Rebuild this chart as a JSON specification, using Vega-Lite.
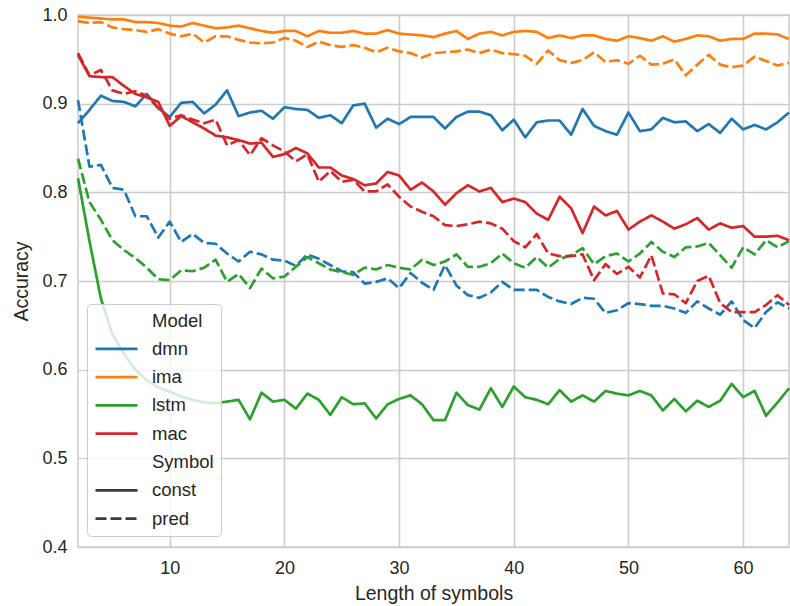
{
  "$schema": "https://vega.github.io/schema/vega-lite/v6.json",
  "width": 711,
  "height": 532,
  "autosize": {"type": "none"},
  "padding": {"left": 78, "top": 15, "right": 1, "bottom": 59},
  "background": "white",
  "config": {
    "font": "Liberation Sans",
    "view": {"stroke": "#cccccc", "strokeWidth": 1.5},
    "axis": {
      "grid": true, "gridColor": "#cccccc", "gridWidth": 1.6,
      "domain": false, "ticks": false,
      "labelFont": "Liberation Sans", "labelFontSize": 18, "labelColor": "#262626",
      "titleFont": "Liberation Sans", "titleFontSize": 19.5, "titleFontWeight": "normal", "titleColor": "#262626"
    }
  },
  "data": {"values": [
    {"x":2,"Model":"dmn","const":0.878,"pred":0.904},{"x":3,"Model":"dmn","const":0.893,"pred":0.829},{"x":4,"Model":"dmn","const":0.909,"pred":0.831},{"x":5,"Model":"dmn","const":0.903,"pred":0.805},{"x":6,"Model":"dmn","const":0.902,"pred":0.803},{"x":7,"Model":"dmn","const":0.897,"pred":0.773},{"x":8,"Model":"dmn","const":0.911,"pred":0.773},{"x":9,"Model":"dmn","const":0.895,"pred":0.749},{"x":10,"Model":"dmn","const":0.885,"pred":0.767},{"x":11,"Model":"dmn","const":0.901,"pred":0.744},{"x":12,"Model":"dmn","const":0.902,"pred":0.753},{"x":13,"Model":"dmn","const":0.889,"pred":0.743},{"x":14,"Model":"dmn","const":0.899,"pred":0.742},{"x":15,"Model":"dmn","const":0.915,"pred":0.731},{"x":16,"Model":"dmn","const":0.886,"pred":0.722},{"x":17,"Model":"dmn","const":0.890,"pred":0.733},{"x":18,"Model":"dmn","const":0.892,"pred":0.730},{"x":19,"Model":"dmn","const":0.883,"pred":0.724},{"x":20,"Model":"dmn","const":0.896,"pred":0.723},{"x":21,"Model":"dmn","const":0.894,"pred":0.717},{"x":22,"Model":"dmn","const":0.893,"pred":0.730},{"x":23,"Model":"dmn","const":0.884,"pred":0.725},{"x":24,"Model":"dmn","const":0.887,"pred":0.718},{"x":25,"Model":"dmn","const":0.878,"pred":0.711},{"x":26,"Model":"dmn","const":0.898,"pred":0.710},{"x":27,"Model":"dmn","const":0.900,"pred":0.697},{"x":28,"Model":"dmn","const":0.873,"pred":0.699},{"x":29,"Model":"dmn","const":0.883,"pred":0.703},{"x":30,"Model":"dmn","const":0.877,"pred":0.692},{"x":31,"Model":"dmn","const":0.885,"pred":0.709},{"x":32,"Model":"dmn","const":0.885,"pred":0.698},{"x":33,"Model":"dmn","const":0.885,"pred":0.690},{"x":34,"Model":"dmn","const":0.872,"pred":0.718},{"x":35,"Model":"dmn","const":0.885,"pred":0.695},{"x":36,"Model":"dmn","const":0.891,"pred":0.684},{"x":37,"Model":"dmn","const":0.891,"pred":0.681},{"x":38,"Model":"dmn","const":0.887,"pred":0.687},{"x":39,"Model":"dmn","const":0.870,"pred":0.699},{"x":40,"Model":"dmn","const":0.882,"pred":0.690},{"x":41,"Model":"dmn","const":0.862,"pred":0.690},{"x":42,"Model":"dmn","const":0.879,"pred":0.690},{"x":43,"Model":"dmn","const":0.881,"pred":0.682},{"x":44,"Model":"dmn","const":0.881,"pred":0.677},{"x":45,"Model":"dmn","const":0.865,"pred":0.674},{"x":46,"Model":"dmn","const":0.894,"pred":0.681},{"x":47,"Model":"dmn","const":0.875,"pred":0.680},{"x":48,"Model":"dmn","const":0.869,"pred":0.664},{"x":49,"Model":"dmn","const":0.865,"pred":0.667},{"x":50,"Model":"dmn","const":0.890,"pred":0.675},{"x":51,"Model":"dmn","const":0.869,"pred":0.674},{"x":52,"Model":"dmn","const":0.871,"pred":0.672},{"x":53,"Model":"dmn","const":0.884,"pred":0.672},{"x":54,"Model":"dmn","const":0.879,"pred":0.669},{"x":55,"Model":"dmn","const":0.880,"pred":0.664},{"x":56,"Model":"dmn","const":0.869,"pred":0.677},{"x":57,"Model":"dmn","const":0.877,"pred":0.669},{"x":58,"Model":"dmn","const":0.867,"pred":0.662},{"x":59,"Model":"dmn","const":0.883,"pred":0.677},{"x":60,"Model":"dmn","const":0.871,"pred":0.656},{"x":61,"Model":"dmn","const":0.876,"pred":0.647},{"x":62,"Model":"dmn","const":0.871,"pred":0.665},{"x":63,"Model":"dmn","const":0.879,"pred":0.676},{"x":64,"Model":"dmn","const":0.890,"pred":0.669},
    {"x":2,"Model":"ima","const":0.998,"pred":0.993},{"x":3,"Model":"ima","const":0.997,"pred":0.991},{"x":4,"Model":"ima","const":0.996,"pred":0.992},{"x":5,"Model":"ima","const":0.995,"pred":0.986},{"x":6,"Model":"ima","const":0.995,"pred":0.984},{"x":7,"Model":"ima","const":0.992,"pred":0.983},{"x":8,"Model":"ima","const":0.992,"pred":0.981},{"x":9,"Model":"ima","const":0.991,"pred":0.984},{"x":10,"Model":"ima","const":0.988,"pred":0.979},{"x":11,"Model":"ima","const":0.987,"pred":0.976},{"x":12,"Model":"ima","const":0.991,"pred":0.979},{"x":13,"Model":"ima","const":0.988,"pred":0.969},{"x":14,"Model":"ima","const":0.985,"pred":0.976},{"x":15,"Model":"ima","const":0.986,"pred":0.976},{"x":16,"Model":"ima","const":0.988,"pred":0.972},{"x":17,"Model":"ima","const":0.985,"pred":0.969},{"x":18,"Model":"ima","const":0.982,"pred":0.968},{"x":19,"Model":"ima","const":0.980,"pred":0.969},{"x":20,"Model":"ima","const":0.982,"pred":0.974},{"x":21,"Model":"ima","const":0.982,"pred":0.971},{"x":22,"Model":"ima","const":0.976,"pred":0.964},{"x":23,"Model":"ima","const":0.982,"pred":0.970},{"x":24,"Model":"ima","const":0.980,"pred":0.966},{"x":25,"Model":"ima","const":0.980,"pred":0.964},{"x":26,"Model":"ima","const":0.982,"pred":0.966},{"x":27,"Model":"ima","const":0.979,"pred":0.963},{"x":28,"Model":"ima","const":0.979,"pred":0.958},{"x":29,"Model":"ima","const":0.983,"pred":0.963},{"x":30,"Model":"ima","const":0.979,"pred":0.959},{"x":31,"Model":"ima","const":0.978,"pred":0.957},{"x":32,"Model":"ima","const":0.977,"pred":0.952},{"x":33,"Model":"ima","const":0.975,"pred":0.957},{"x":34,"Model":"ima","const":0.979,"pred":0.958},{"x":35,"Model":"ima","const":0.982,"pred":0.959},{"x":36,"Model":"ima","const":0.973,"pred":0.961},{"x":37,"Model":"ima","const":0.979,"pred":0.957},{"x":38,"Model":"ima","const":0.981,"pred":0.961},{"x":39,"Model":"ima","const":0.977,"pred":0.957},{"x":40,"Model":"ima","const":0.981,"pred":0.956},{"x":41,"Model":"ima","const":0.982,"pred":0.954},{"x":42,"Model":"ima","const":0.981,"pred":0.945},{"x":43,"Model":"ima","const":0.974,"pred":0.960},{"x":44,"Model":"ima","const":0.977,"pred":0.949},{"x":45,"Model":"ima","const":0.974,"pred":0.946},{"x":46,"Model":"ima","const":0.977,"pred":0.949},{"x":47,"Model":"ima","const":0.977,"pred":0.958},{"x":48,"Model":"ima","const":0.973,"pred":0.947},{"x":49,"Model":"ima","const":0.971,"pred":0.949},{"x":50,"Model":"ima","const":0.976,"pred":0.945},{"x":51,"Model":"ima","const":0.974,"pred":0.954},{"x":52,"Model":"ima","const":0.971,"pred":0.944},{"x":53,"Model":"ima","const":0.976,"pred":0.945},{"x":54,"Model":"ima","const":0.970,"pred":0.950},{"x":55,"Model":"ima","const":0.973,"pred":0.932},{"x":56,"Model":"ima","const":0.977,"pred":0.944},{"x":57,"Model":"ima","const":0.976,"pred":0.955},{"x":58,"Model":"ima","const":0.971,"pred":0.944},{"x":59,"Model":"ima","const":0.973,"pred":0.941},{"x":60,"Model":"ima","const":0.973,"pred":0.943},{"x":61,"Model":"ima","const":0.979,"pred":0.953},{"x":62,"Model":"ima","const":0.979,"pred":0.948},{"x":63,"Model":"ima","const":0.978,"pred":0.943},{"x":64,"Model":"ima","const":0.973,"pred":0.946},
    {"x":2,"Model":"lstm","const":0.816,"pred":0.838},{"x":3,"Model":"lstm","const":0.745,"pred":0.789},{"x":4,"Model":"lstm","const":0.680,"pred":0.769},{"x":5,"Model":"lstm","const":0.640,"pred":0.746},{"x":6,"Model":"lstm","const":0.618,"pred":0.735},{"x":7,"Model":"lstm","const":0.600,"pred":0.726},{"x":8,"Model":"lstm","const":0.588,"pred":0.715},{"x":9,"Model":"lstm","const":0.580,"pred":0.702},{"x":10,"Model":"lstm","const":0.575,"pred":0.701},{"x":11,"Model":"lstm","const":0.570,"pred":0.712},{"x":12,"Model":"lstm","const":0.566,"pred":0.711},{"x":13,"Model":"lstm","const":0.563,"pred":0.715},{"x":14,"Model":"lstm","const":0.562,"pred":0.724},{"x":15,"Model":"lstm","const":0.564,"pred":0.699},{"x":16,"Model":"lstm","const":0.566,"pred":0.708},{"x":17,"Model":"lstm","const":0.544,"pred":0.692},{"x":18,"Model":"lstm","const":0.574,"pred":0.714},{"x":19,"Model":"lstm","const":0.564,"pred":0.703},{"x":20,"Model":"lstm","const":0.566,"pred":0.705},{"x":21,"Model":"lstm","const":0.556,"pred":0.716},{"x":22,"Model":"lstm","const":0.573,"pred":0.727},{"x":23,"Model":"lstm","const":0.566,"pred":0.720},{"x":24,"Model":"lstm","const":0.549,"pred":0.713},{"x":25,"Model":"lstm","const":0.569,"pred":0.710},{"x":26,"Model":"lstm","const":0.561,"pred":0.707},{"x":27,"Model":"lstm","const":0.562,"pred":0.715},{"x":28,"Model":"lstm","const":0.545,"pred":0.713},{"x":29,"Model":"lstm","const":0.561,"pred":0.718},{"x":30,"Model":"lstm","const":0.567,"pred":0.715},{"x":31,"Model":"lstm","const":0.571,"pred":0.713},{"x":32,"Model":"lstm","const":0.561,"pred":0.724},{"x":33,"Model":"lstm","const":0.543,"pred":0.718},{"x":34,"Model":"lstm","const":0.543,"pred":0.722},{"x":35,"Model":"lstm","const":0.574,"pred":0.730},{"x":36,"Model":"lstm","const":0.560,"pred":0.716},{"x":37,"Model":"lstm","const":0.555,"pred":0.716},{"x":38,"Model":"lstm","const":0.579,"pred":0.720},{"x":39,"Model":"lstm","const":0.558,"pred":0.731},{"x":40,"Model":"lstm","const":0.581,"pred":0.720},{"x":41,"Model":"lstm","const":0.569,"pred":0.715},{"x":42,"Model":"lstm","const":0.566,"pred":0.727},{"x":43,"Model":"lstm","const":0.561,"pred":0.715},{"x":44,"Model":"lstm","const":0.577,"pred":0.725},{"x":45,"Model":"lstm","const":0.564,"pred":0.729},{"x":46,"Model":"lstm","const":0.571,"pred":0.737},{"x":47,"Model":"lstm","const":0.564,"pred":0.719},{"x":48,"Model":"lstm","const":0.576,"pred":0.728},{"x":49,"Model":"lstm","const":0.573,"pred":0.731},{"x":50,"Model":"lstm","const":0.571,"pred":0.722},{"x":51,"Model":"lstm","const":0.576,"pred":0.731},{"x":52,"Model":"lstm","const":0.571,"pred":0.744},{"x":53,"Model":"lstm","const":0.554,"pred":0.733},{"x":54,"Model":"lstm","const":0.567,"pred":0.727},{"x":55,"Model":"lstm","const":0.553,"pred":0.738},{"x":56,"Model":"lstm","const":0.565,"pred":0.739},{"x":57,"Model":"lstm","const":0.558,"pred":0.743},{"x":58,"Model":"lstm","const":0.565,"pred":0.729},{"x":59,"Model":"lstm","const":0.584,"pred":0.715},{"x":60,"Model":"lstm","const":0.569,"pred":0.738},{"x":61,"Model":"lstm","const":0.576,"pred":0.730},{"x":62,"Model":"lstm","const":0.548,"pred":0.746},{"x":63,"Model":"lstm","const":0.563,"pred":0.738},{"x":64,"Model":"lstm","const":0.579,"pred":0.745},
    {"x":2,"Model":"mac","const":0.955,"pred":0.957},{"x":3,"Model":"mac","const":0.931,"pred":0.932},{"x":4,"Model":"mac","const":0.930,"pred":0.938},{"x":5,"Model":"mac","const":0.930,"pred":0.915},{"x":6,"Model":"mac","const":0.920,"pred":0.911},{"x":7,"Model":"mac","const":0.911,"pred":0.914},{"x":8,"Model":"mac","const":0.907,"pred":0.909},{"x":9,"Model":"mac","const":0.902,"pred":0.895},{"x":10,"Model":"mac","const":0.875,"pred":0.883},{"x":11,"Model":"mac","const":0.886,"pred":0.887},{"x":12,"Model":"mac","const":0.879,"pred":0.882},{"x":13,"Model":"mac","const":0.872,"pred":0.878},{"x":14,"Model":"mac","const":0.864,"pred":0.882},{"x":15,"Model":"mac","const":0.862,"pred":0.853},{"x":16,"Model":"mac","const":0.859,"pred":0.859},{"x":17,"Model":"mac","const":0.855,"pred":0.842},{"x":18,"Model":"mac","const":0.856,"pred":0.861},{"x":19,"Model":"mac","const":0.840,"pred":0.853},{"x":20,"Model":"mac","const":0.843,"pred":0.846},{"x":21,"Model":"mac","const":0.850,"pred":0.835},{"x":22,"Model":"mac","const":0.844,"pred":0.843},{"x":23,"Model":"mac","const":0.828,"pred":0.812},{"x":24,"Model":"mac","const":0.828,"pred":0.824},{"x":25,"Model":"mac","const":0.819,"pred":0.812},{"x":26,"Model":"mac","const":0.815,"pred":0.814},{"x":27,"Model":"mac","const":0.808,"pred":0.801},{"x":28,"Model":"mac","const":0.810,"pred":0.801},{"x":29,"Model":"mac","const":0.823,"pred":0.809},{"x":30,"Model":"mac","const":0.819,"pred":0.795},{"x":31,"Model":"mac","const":0.803,"pred":0.784},{"x":32,"Model":"mac","const":0.811,"pred":0.778},{"x":33,"Model":"mac","const":0.801,"pred":0.773},{"x":34,"Model":"mac","const":0.786,"pred":0.763},{"x":35,"Model":"mac","const":0.799,"pred":0.762},{"x":36,"Model":"mac","const":0.808,"pred":0.764},{"x":37,"Model":"mac","const":0.801,"pred":0.767},{"x":38,"Model":"mac","const":0.805,"pred":0.765},{"x":39,"Model":"mac","const":0.789,"pred":0.759},{"x":40,"Model":"mac","const":0.793,"pred":0.745},{"x":41,"Model":"mac","const":0.789,"pred":0.738},{"x":42,"Model":"mac","const":0.776,"pred":0.753},{"x":43,"Model":"mac","const":0.769,"pred":0.731},{"x":44,"Model":"mac","const":0.795,"pred":0.728},{"x":45,"Model":"mac","const":0.782,"pred":0.728},{"x":46,"Model":"mac","const":0.754,"pred":0.730},{"x":47,"Model":"mac","const":0.784,"pred":0.701},{"x":48,"Model":"mac","const":0.774,"pred":0.719},{"x":49,"Model":"mac","const":0.779,"pred":0.708},{"x":50,"Model":"mac","const":0.758,"pred":0.716},{"x":51,"Model":"mac","const":0.767,"pred":0.704},{"x":52,"Model":"mac","const":0.774,"pred":0.729},{"x":53,"Model":"mac","const":0.767,"pred":0.686},{"x":54,"Model":"mac","const":0.759,"pred":0.685},{"x":55,"Model":"mac","const":0.764,"pred":0.675},{"x":56,"Model":"mac","const":0.771,"pred":0.700},{"x":57,"Model":"mac","const":0.758,"pred":0.706},{"x":58,"Model":"mac","const":0.765,"pred":0.675},{"x":59,"Model":"mac","const":0.760,"pred":0.665},{"x":60,"Model":"mac","const":0.762,"pred":0.665},{"x":61,"Model":"mac","const":0.750,"pred":0.665},{"x":62,"Model":"mac","const":0.750,"pred":0.673},{"x":63,"Model":"mac","const":0.751,"pred":0.684},{"x":64,"Model":"mac","const":0.746,"pred":0.673}
  ]},
  "transform": [{"fold": ["const", "pred"], "as": ["Symbol", "Accuracy"]}],
  "mark": {"type": "line", "strokeWidth": 2.7, "strokeJoin": "round", "strokeCap": "butt"},
  "encoding": {
    "x": {
      "field": "x", "type": "quantitative",
      "scale": {"domain": [2, 64], "nice": false, "zero": false},
      "axis": {"values": [10, 20, 30, 40, 50, 60], "title": "Length of symbols", "labelPadding": 12, "titlePadding": 7}
    },
    "y": {
      "field": "Accuracy", "type": "quantitative",
      "scale": {"domain": [0.4, 1.0], "nice": false, "zero": false},
      "axis": {"values": [0.4, 0.5, 0.6, 0.7, 0.8, 0.9, 1.0], "format": ".1f", "title": "Accuracy", "labelPadding": 11, "titlePadding": 10}
    },
    "color": {
      "field": "Model", "type": "nominal",
      "scale": {
        "domain": ["Model", "dmn", "ima", "lstm", "mac", "Symbol", "const", "pred"],
        "range": ["transparent", "#1f77b4", "#ff7f0e", "#2ca02c", "#d62728", "transparent", "#3a3a3a", "#3a3a3a"]
      },
      "legend": {
        "title": null,
        "orient": "none",
        "legendX": 9,
        "legendY": 289,
        "zindex": 1,
        "symbolType": "M-2.625,0H2.625",
        "symbolSize": 256,
        "symbolStrokeWidth": 2.7,
        "symbolOffset": 13,
        "labelOffset": 26,
        "labelFont": "Liberation Sans",
        "labelFontSize": 18.5,
        "labelColor": "#262626",
        "rowPadding": 9.3,
        "padding": 7,
        "fillColor": "rgba(255,255,255,0.8)",
        "strokeColor": "#cccccc",
        "cornerRadius": 4,
        "encode": {
          "symbols": {"update": {"strokeDash": {"signal": "datum.value === 'pred' ? [11, 4] : [1, 0]"}}}
        }
      }
    },
    "strokeDash": {
      "field": "Symbol", "type": "nominal",
      "scale": {"domain": ["const", "pred"], "range": [[1, 0], [11, 4]]},
      "legend": null
    }
  }
}
